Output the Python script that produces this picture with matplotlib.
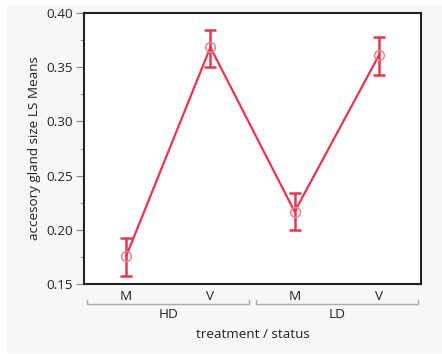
import matplotlib
matplotlib.use("Agg")
import matplotlib.pyplot as plt
from matplotlib.patches import Rectangle
from matplotlib.ticker import MultipleLocator
from matplotlib.lines import Line2D

plt.rcParams['font.family'] = ['Open Sans', 'DejaVu Sans']

treatments = ["HD", "LD"]
status = ["M", "V", "M", "V"]
means = [0.1756, 0.3684, 0.2167, 0.3609]
upper = [0.1921, 0.3846, 0.2339, 0.3774]
lower = [0.1577, 0.3505, 0.1998, 0.3431]

W, H = 442, 354
fig = plt.figure(figsize=(W / 100, H / 100), dpi=100)
fig.patch.set_facecolor("white")
fig.add_artist(Rectangle((7 / W, 1 - 353 / H), (442 - 7) / W, (353 - 5) / H,
                         transform=fig.transFigure, facecolor="#f7f7f7",
                         edgecolor="none", zorder=-10))

ax = fig.add_axes([84 / W, 1 - 284 / H, (421 - 84) / W, (284 - 13) / H])
ax.set_facecolor("white")

red = "#e8364f"
x = list(range(len(means)))
yerr = [[m - l for m, l in zip(means, lower)], [u - m for m, u in zip(means, upper)]]
ax.plot(x, means, color=red, lw=1.6, zorder=3)
ax.errorbar(x, means, yerr=yerr, fmt="none", ecolor=red, elinewidth=1.8,
            capsize=4.3, capthick=1.8, zorder=4)
ax.plot(x, means, "o", ms=7, mfc="none", mec="#f08090", mew=1.1, zorder=5)

ax.set_xlim(-0.5, 3.5)
ax.set_ylim(0.15, 0.40)
ax.yaxis.set_major_locator(MultipleLocator(0.05))
ax.yaxis.set_minor_locator(MultipleLocator(0.025))
ax.yaxis.set_major_formatter(matplotlib.ticker.FormatStrFormatter("%.2f"))
ax.tick_params(axis="y", which="major", length=6, color="#888888", labelsize=9.7,
               labelcolor="#222222", pad=2)
ax.tick_params(axis="y", which="minor", length=3, color="#888888")
ax.set_xticks(x)
ax.set_xticklabels(status)
ax.tick_params(axis="x", length=0, labelsize=9.7, labelcolor="#222222", pad=4)
for s in ax.spines.values():
    s.set_color("#222222")
    s.set_linewidth(1.5)

# group brackets
trans = ax.get_xaxis_transform()
ybr = -(304 - 284) / (284 - 13)
ytick_up = -(300 - 284) / (284 - 13)
for i, t in enumerate(treatments):
    x0, x1 = 2 * i - 0.46, 2 * i + 1.46
    ax.add_line(Line2D([x0, x0, x1, x1], [ytick_up, ybr, ybr, ytick_up], transform=trans,
                       color="#aaaaaa", lw=1, clip_on=False))
    ax.text(2 * i + 0.5, -(314 - 284) / (284 - 13), t, transform=trans, ha="center",
            va="center", fontsize=9.7, color="#222222")

ax.text(0.5, -(335 - 284) / (284 - 13), "treatment / status", transform=ax.transAxes,
        ha="center", va="center", fontsize=9.7, color="#222222")
fig.text(35 / W, 1 - 148 / H, "accesory gland size LS Means", rotation=90,
         ha="center", va="center", fontsize=9.7, color="#222222")

fig.savefig("out.png", dpi=100, facecolor=fig.get_facecolor())
